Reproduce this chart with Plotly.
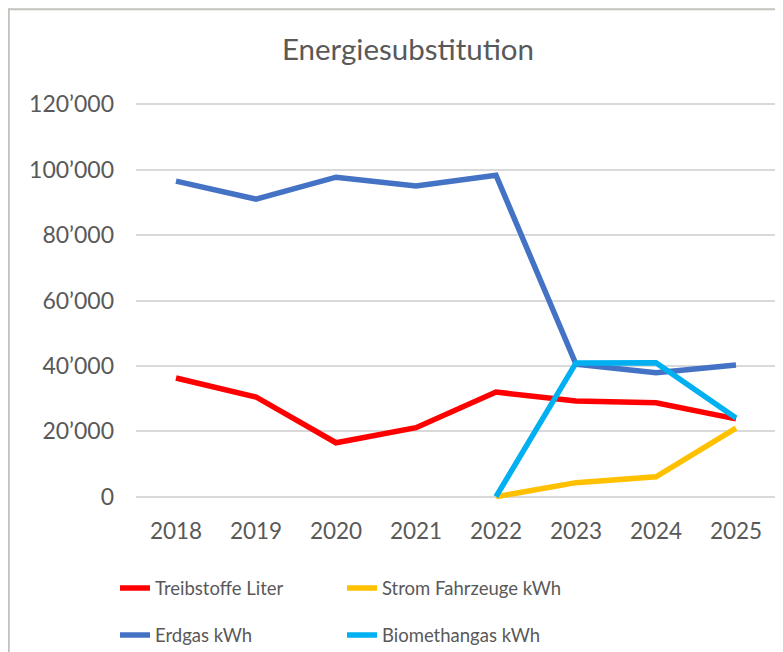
import plotly.graph_objects as go

years = ["2018", "2019", "2020", "2021", "2022", "2023", "2024", "2025"]
treibstoffe = [36300, 30500, 16500, 21100, 32000, 29300, 28700, 23800]
strom = [None, None, None, None, 0, 4300, 6100, 21000]
erdgas = [96500, 91000, 97700, 95000, 98300, 40500, 37900, 40300]
biomethan = [None, None, None, None, 0, 40900, 41000, 24100]

tick_vals = [0, 20000, 40000, 60000, 80000, 100000, 120000]
tick_text = ["0", "20’000", "40’000", "60’000", "80’000", "100’000", "120’000"]

FONT = "Lato"
GREY = "#595959"

series = [
    ("Treibstoffe Liter", treibstoffe, "#FF0000", "legend"),
    ("Strom Fahrzeuge kWh", strom, "#FFC000", "legend"),
    ("Erdgas kWh", erdgas, "#4472C4", "legend2"),
    ("Biomethangas kWh", biomethan, "#00B0F0", "legend2"),
]

fig = go.Figure()
for name, vals, col, lg in series:
    fig.add_trace(go.Scatter(
        x=years, y=vals, name=name, mode="lines",
        line=dict(color=col, width=5.5),
        legend=lg, connectgaps=False,
    ))

# page has an 8px body margin; figure coordinates = page coordinates - 8
OFF = 8
W, H = 775, 644
PADV = 700                      # small value padding so edge gridlines are drawn
k = 393 / 120000                # px per unit (0 at page y 497, 120k at page y 104)
padpx = PADV * k
L, R = 136 - OFF, 7
T, B = 104 - OFF - padpx, 155 - padpx
pw, ph = W - L - R, H - T - B

def px_x(p):
    return (p - OFF - L) / pw

def px_y(p):
    return (H - B - (p - OFF)) / ph

legend_common = dict(
    orientation="h", xanchor="left", yanchor="middle",
    font=dict(family=FONT, size=18.5, color=GREY),
    entrywidth=182, entrywidthmode="pixels",
    bgcolor="rgba(0,0,0,0)", traceorder="normal",
)

fig.update_layout(
    width=W, height=H,
    margin=dict(l=L, r=R, t=T, b=B, autoexpand=False),
    paper_bgcolor="white", plot_bgcolor="white",
    title=dict(text="Energiesubstitution", x=px_x(408), xref="paper", xanchor="center",
               y=1 - (50 - OFF) / H, yanchor="middle",
               font=dict(family=FONT, size=29.5, color=GREY)),
    font=dict(family=FONT, color=GREY),
    legend=dict(x=px_x(115), y=px_y(589), **legend_common),
    legend2=dict(x=px_x(115), y=px_y(636), **legend_common),
    xaxis=dict(type="category", range=[-0.5, 7.5],
               showgrid=False, zeroline=False, showline=False,
               tickfont=dict(family=FONT, size=22.5, color=GREY),
               ticks="", ticklabelstandoff=16),
    yaxis=dict(range=[-PADV, 120000 + PADV], tickvals=tick_vals, ticktext=tick_text,
               showgrid=True, gridcolor="#D9D9D9", gridwidth=1.5,
               zeroline=False, showline=False, ticks="",
               tickfont=dict(family=FONT, size=23, color=GREY),
               ticklabelstandoff=21),
    shapes=[
        dict(type="line", xref="paper", yref="paper",
             x0=px_x(OFF + 0.8), x1=px_x(OFF + 0.8), y0=px_y(OFF), y1=px_y(700),
             line=dict(color="#C3C3BB", width=2)),
        dict(type="line", xref="paper", yref="paper",
             x0=px_x(OFF), x1=px_x(800), y0=px_y(OFF + 0.8), y1=px_y(OFF + 0.8),
             line=dict(color="#C3C3BB", width=2)),
    ],
    showlegend=True,
)

fig.write_html("out.html")
